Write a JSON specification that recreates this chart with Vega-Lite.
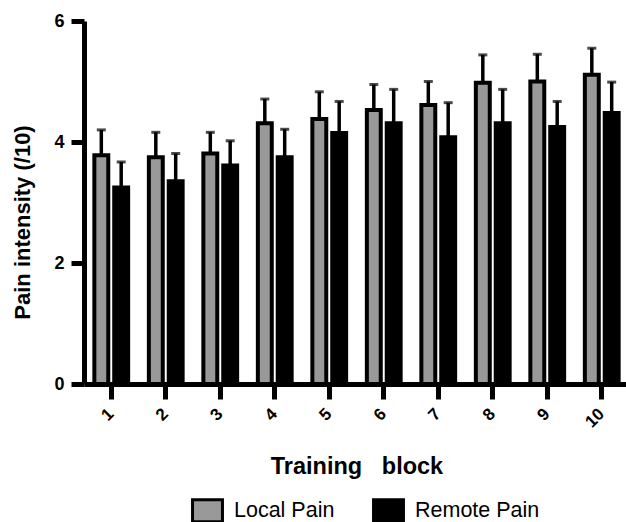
{
  "$schema": "https://vega.github.io/schema/vega-lite/v6.json",
  "width": 542,
  "height": 363,
  "autosize": {"type": "none"},
  "padding": {"left": 84, "top": 21, "right": 0, "bottom": 138},
  "background": "white",
  "config": {
    "view": {"stroke": null},
    "font": "Liberation Sans",
    "axisX": {
      "titleFont": "Liberation Sans",
      "titleFontSize": 23.5,
      "titleFontWeight": "bold",
      "titleColor": "black",
      "titleBaseline": "alphabetic",
      "titleY": 89,
      "labelAngle": -45,
      "labelAlign": "right",
      "labelBaseline": "middle",
      "labelFont": "Liberation Sans",
      "labelFontSize": 17,
      "labelFontWeight": "bold",
      "labelColor": "black",
      "labelPadding": 12,
      "domainColor": "black",
      "domainWidth": 5,
      "tickColor": "black",
      "tickWidth": 5,
      "tickSize": 15,
      "grid": false
    },
    "axisY": {
      "titleFont": "Liberation Sans",
      "titleFontSize": 22,
      "titleFontWeight": "bold",
      "titleColor": "black",
      "titleBaseline": "alphabetic",
      "titleX": -55,
      "titleY": 201,
      "labelFont": "Liberation Sans",
      "labelFontSize": 18,
      "labelFontWeight": "bold",
      "labelColor": "black",
      "labelPadding": 7,
      "domainColor": "black",
      "domainWidth": 5,
      "tickColor": "black",
      "tickWidth": 5,
      "tickSize": 13,
      "grid": false
    }
  },
  "data": {
    "values": [
      {"block": 1, "group": "Local Pain", "mean": 3.78, "upper": 4.20},
      {"block": 1, "group": "Remote Pain", "mean": 3.25, "upper": 3.67},
      {"block": 2, "group": "Local Pain", "mean": 3.75, "upper": 4.16},
      {"block": 2, "group": "Remote Pain", "mean": 3.35, "upper": 3.81},
      {"block": 3, "group": "Local Pain", "mean": 3.81, "upper": 4.16},
      {"block": 3, "group": "Remote Pain", "mean": 3.61, "upper": 4.02},
      {"block": 4, "group": "Local Pain", "mean": 4.31, "upper": 4.71},
      {"block": 4, "group": "Remote Pain", "mean": 3.75, "upper": 4.21},
      {"block": 5, "group": "Local Pain", "mean": 4.38, "upper": 4.83},
      {"block": 5, "group": "Remote Pain", "mean": 4.15, "upper": 4.67},
      {"block": 6, "group": "Local Pain", "mean": 4.53, "upper": 4.95},
      {"block": 6, "group": "Remote Pain", "mean": 4.31, "upper": 4.87},
      {"block": 7, "group": "Local Pain", "mean": 4.61, "upper": 5.00},
      {"block": 7, "group": "Remote Pain", "mean": 4.08, "upper": 4.65},
      {"block": 8, "group": "Local Pain", "mean": 4.98, "upper": 5.44},
      {"block": 8, "group": "Remote Pain", "mean": 4.31, "upper": 4.87},
      {"block": 9, "group": "Local Pain", "mean": 5.00, "upper": 5.45},
      {"block": 9, "group": "Remote Pain", "mean": 4.25, "upper": 4.67},
      {"block": 10, "group": "Local Pain", "mean": 5.11, "upper": 5.55},
      {"block": 10, "group": "Remote Pain", "mean": 4.48, "upper": 4.99}
    ]
  },
  "encoding": {
    "x": {
      "field": "block",
      "type": "ordinal",
      "scale": {"range": [0, 545], "paddingInner": 0.38, "paddingOuter": 0.19},
      "axis": {"title": "Training\u00a0\u00a0\u00a0block"}
    },
    "xOffset": {
      "field": "group",
      "type": "nominal",
      "sort": ["Local Pain", "Remote Pain"],
      "scale": {"paddingInner": 0.3, "paddingOuter": 0}
    },
    "y": {
      "field": "mean",
      "type": "quantitative",
      "scale": {"domain": [0, 6], "nice": false},
      "axis": {"title": "Pain intensity (/10)", "values": [0, 2, 4, 6]}
    }
  },
  "layer": [
    {
      "mark": {"type": "rule", "color": "black", "strokeWidth": 3.5},
      "encoding": {
        "y2": {"field": "upper"}
      }
    },
    {
      "mark": {"type": "tick", "color": "black", "thickness": 3, "size": 9, "orient": "horizontal"},
      "encoding": {
        "y": {"field": "upper", "type": "quantitative", "axis": {"title": "Pain intensity (/10)", "values": [0, 2, 4, 6]}}
      }
    },
    {
      "mark": {"type": "bar", "stroke": "black", "strokeWidth": 4},
      "encoding": {
        "fill": {
          "field": "group",
          "type": "nominal",
          "scale": {"domain": ["Local Pain", "Remote Pain"], "range": ["#999999", "#000000"]},
          "legend": {
            "title": null,
            "orient": "none",
            "direction": "horizontal",
            "legendX": 111,
            "legendY": 477,
            "symbolType": "M-1.36,-1H1.36V1H-1.36Z",
            "symbolSize": 484,
            "symbolStrokeColor": "black",
            "symbolStrokeWidth": 3,
            "labelFont": "Liberation Sans",
            "labelFontSize": 21.5,
            "labelColor": "black",
            "labelOffset": 14,
            "columnPadding": 32
          }
        }
      }
    }
  ]
}
